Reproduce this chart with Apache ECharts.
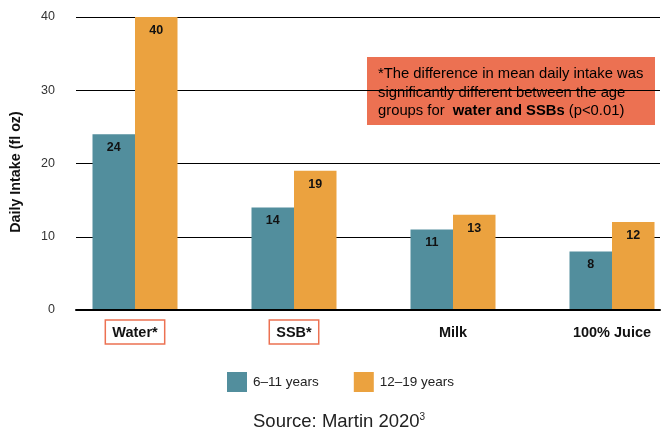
<!DOCTYPE html>
<html>
<head>
<meta charset="utf-8">
<script src="https://cdn.jsdelivr.net/npm/echarts@6/dist/echarts.min.js"></script>
<style>
  html, body { margin: 0; padding: 0; background: #fff; }
  #chart { width: 662px; height: 432px; }
</style>
</head>
<body>
<div id="chart"></div>
<script>
// Beverage categories and mean daily intake (fl oz) by age group
const categories = ['Water*', 'SSB*', 'Milk', '100% Juice'];
const flagged = ['Water*', 'SSB*'];
const seriesNames = ['6\u201311 years', '12\u201319 years'];
const ages6to11 = [24, 14, 11, 8];
const ages12to19 = [40, 19, 13, 12];
const yTicks = [0, 10, 20, 30, 40];

const TEAL = '#528E9D';
const ORANGE = '#EBA23F';
const CORAL = '#EC7152';
const FONT = 'Liberation Sans, Arial, Helvetica, sans-serif';

const chart = echarts.init(document.getElementById('chart'), null, { renderer: 'canvas' });

const valueLabel = {
  show: true,
  position: 'insideTop',
  distance: 7,
  color: '#111',
  fontWeight: 'bold',
  fontSize: 12.5,
  fontFamily: FONT
};

const option = {
  animation: false,
  backgroundColor: '#fff',
  textStyle: { fontFamily: FONT },
  title: {
    text: '{a|Source: Martin 2020}{s|3}',
    left: 253,
    top: 412,
    padding: 0,
    textStyle: {
      fontFamily: FONT,
      fontWeight: 'normal',
      rich: {
        a: { fontSize: 18.5, fontWeight: 'normal', color: '#222', fontFamily: FONT, lineHeight: 20 },
        s: { fontSize: 10, fontWeight: 'normal', color: '#222', fontFamily: FONT, verticalAlign: 'top', lineHeight: 20, padding: [0, 0, 8, 0] }
      }
    }
  },
  legend: {
    left: 227,
    top: 372,
    itemWidth: 20,
    itemHeight: 20,
    itemGap: 35,
    padding: 0,
    icon: 'rect',
    textStyle: { fontSize: 13.5, color: '#222', fontFamily: FONT, padding: [0, 0, 0, 1] },
    data: seriesNames
  },
  grid: [
    // grid 0: value scale, gridlines and baseline
    { left: 76, right: 2, top: 17, bottom: 122, outerBoundsMode: 'none' },
    // grid 1: category bands for the bars, wider than the plot so the groups sit off-centre
    { left: 55.5, width: 636, top: 17, bottom: 122, outerBoundsMode: 'none' }
  ],
  xAxis: [
    {
      gridIndex: 0,
      type: 'category',
      data: categories,
      axisLine: { show: true, lineStyle: { color: '#000', width: 2 } },
      axisTick: { show: false },
      axisLabel: { show: false },
      z: 5
    },
    {
      gridIndex: 1,
      type: 'category',
      data: categories,
      axisLine: { show: false },
      axisTick: { show: false },
      axisLabel: {
        margin: 10,
        fontFamily: FONT,
        formatter: function (v) {
          return flagged.indexOf(v) >= 0 ? '{box|' + v + '}' : '{plain|' + v + '}';
        },
        rich: {
          box: {
            fontSize: 14.5, fontWeight: 'bold', color: '#111', fontFamily: FONT,
            borderColor: CORAL, borderWidth: 1.5, padding: [5, 7, 4, 7]
          },
          plain: {
            fontSize: 14.5, fontWeight: 'bold', color: '#111', fontFamily: FONT,
            padding: [5, 0, 4, 0]
          }
        }
      }
    }
  ],
  yAxis: [
    {
      gridIndex: 0,
      type: 'value',
      min: yTicks[0],
      max: yTicks[yTicks.length - 1],
      interval: 10,
      axisLine: { show: false },
      axisTick: { show: false },
      axisLabel: { margin: 21, fontSize: 12.5, color: '#333', fontFamily: FONT },
      splitLine: { show: true, lineStyle: { color: '#000', width: 1 } },
      name: 'Daily Intake (fl oz)',
      nameLocation: 'middle',
      nameGap: 53,
      nameTextStyle: {
        fontSize: 14.3, fontWeight: 'bold', color: '#111', fontFamily: FONT,
        padding: [0, 17, 0, 0]
      }
    },
    {
      gridIndex: 1,
      type: 'value',
      min: yTicks[0],
      max: yTicks[yTicks.length - 1],
      interval: 10,
      show: false,
      splitLine: { show: false }
    }
  ],
  series: [
    {
      name: seriesNames[0],
      type: 'bar',
      xAxisIndex: 1,
      yAxisIndex: 1,
      data: ages6to11,
      barWidth: 42.5,
      barGap: '0%',
      itemStyle: { color: TEAL },
      label: valueLabel
    },
    {
      name: seriesNames[1],
      type: 'bar',
      xAxisIndex: 1,
      yAxisIndex: 1,
      data: ages12to19,
      barWidth: 42.5,
      barGap: '0%',
      itemStyle: { color: ORANGE },
      label: valueLabel
    }
  ],
  graphic: [
    {
      type: 'group',
      left: 367,
      top: 57,
      z: 10,
      children: [
        {
          type: 'rect',
          shape: { x: 0, y: 0, width: 288, height: 68 },
          style: { fill: CORAL }
        },
        {
          type: 'text',
          x: 11,
          y: 8,
          style: {
            text: '{n|*The difference in mean daily intake was}\n' +
                  '{n|significantly different between the age}\n' +
                  '{n|groups for  }{b|water and SSBs}{n| (p<0.01)}',
            rich: {
              n: { fontSize: 14.8, color: '#1a1a1a', fontFamily: FONT, lineHeight: 18.5 },
              b: { fontSize: 14.8, color: '#1a1a1a', fontWeight: 'bold', fontFamily: FONT, lineHeight: 18.5 }
            }
          }
        }
      ]
    }
  ]
};

chart.setOption(option);
</script>
</body>
</html>
